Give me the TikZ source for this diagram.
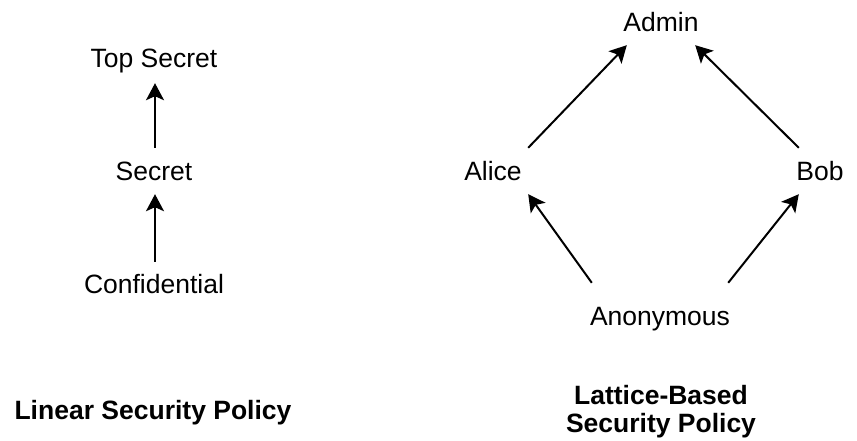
\documentclass[tikz,border=0pt]{standalone}
\usepackage{fontspec}
\setmainfont{Liberation Sans}
\usetikzlibrary{arrows.meta}
\begin{document}
\begin{tikzpicture}[x=1pt,y=-1pt,
  lbl/.style={rectangle, inner xsep=-14pt, inner ysep=0pt, text height=19pt, text depth=0pt,
    font=\fontsize{26.5pt}{28pt}\selectfont},
  ttl/.style={inner sep=0pt, anchor=base, align=center,
    font=\fontsize{26.5pt}{28pt}\selectfont\bfseries},
  arr/.style={line width=2pt, -{Stealth[length=17pt,width=18pt,inset=4pt]}}]
  \useasboundingbox (0,0) rectangle (857,441);

  % linear chain of clearance levels
  \node[lbl, minimum width=140pt, minimum height=50pt] (top) at (154,58) {Top Secret};
  \node[lbl, minimum width=80pt, minimum height=46pt] (sec) at (154,171) {Secret};
  \node[lbl, minimum width=140pt, minimum height=44pt] (conf) at (154,284) {Confidential};
  \draw[arr] ([xshift=1pt]sec.north) -- ([xshift=1pt]top.south);
  \draw[arr] ([xshift=1pt]conf.north) -- ([xshift=1pt]sec.south);

  % lattice of principals
  \node[lbl, minimum width=68pt, minimum height=46pt] (admin) at (661,22) {Admin};
  \node[lbl, minimum width=70pt, minimum height=46pt] (alice) at (493,171) {Alice};
  \node[lbl, minimum width=42pt, minimum height=46pt] (bob) at (820,171) {Bob};
  \node[lbl, minimum width=136pt, minimum height=66pt] (anon) at (660,316) {Anonymous};
  \draw[arr] (alice.north east) -- (admin.south west);
  \draw[arr] (bob.north west) -- (admin.south east);
  \draw[arr] (anon.north west) -- (alice.south east);
  \draw[arr] (anon.north east) -- (bob.south west);

  % captions (base anchor sits on the last line of a multi-line node)
  \node[ttl] (lintitle) at (153,419.5) {Linear Security Policy};
  \node[ttl] (lattitle) at (661,432) {Lattice-Based\\Security Policy};
\end{tikzpicture}
\end{document}
